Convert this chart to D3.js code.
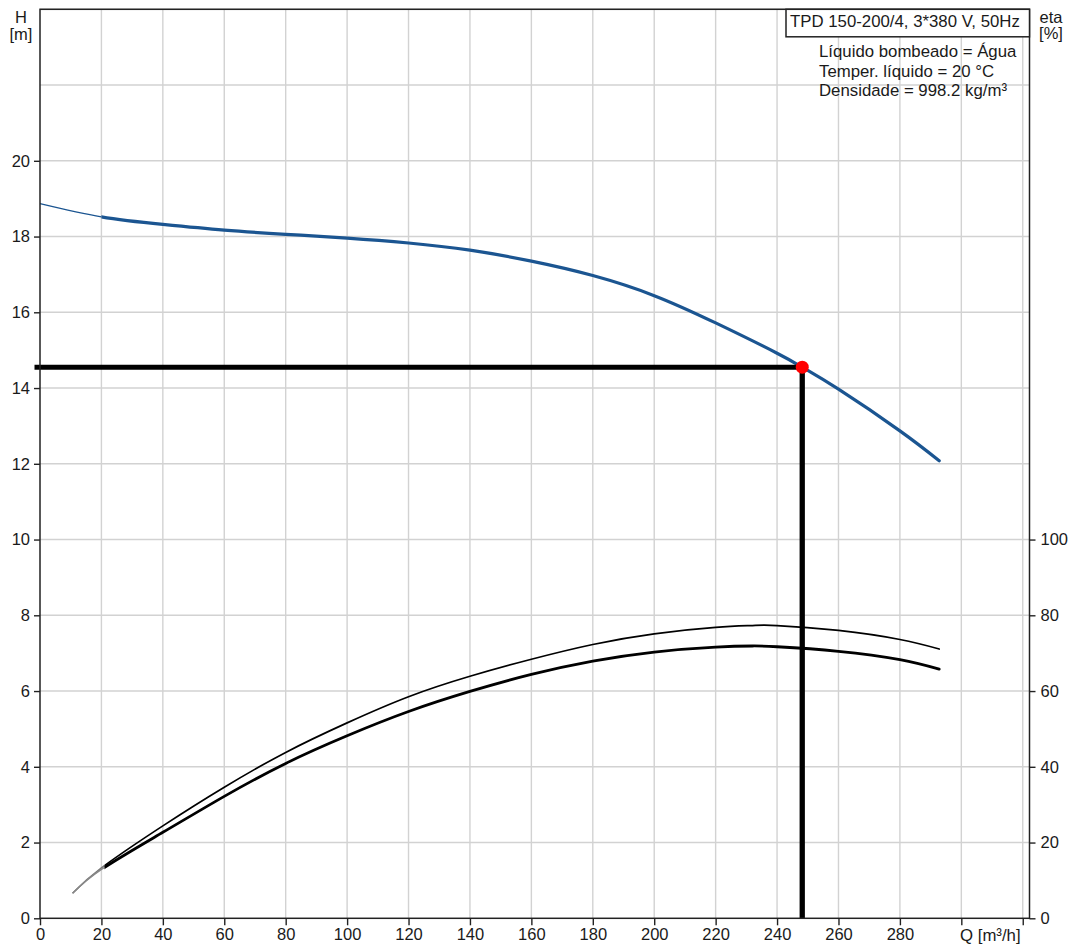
<!DOCTYPE html>
<html><head><meta charset="utf-8">
<script src="https://cdn.jsdelivr.net/npm/d3@7"></script>
<style>
body{margin:0;background:#fff}
svg{display:block;font-family:"Liberation Sans",Arial,sans-serif}
</style>
</head><body>
<svg id="c" width="1071" height="950"></svg>
<script>
// ---------- data ----------
const qTicks = [0,20,40,60,80,100,120,140,160,180,200,220,240,260,280];
const qExtraTicks = [300,320];
const hTicks = [0,2,4,6,8,10,12,14,16,18,20];
const hGrid = [2,4,6,8,10,12,14,16,18,20,22,24];
const etaTicks = [0,20,40,60,80,100];

const headQ = [0,20,40,60,80,100,120,140,160,180,200,220,240,248.2,260,280,292.8];
const headH = [18.87,18.52,18.32,18.17,18.06,17.96,17.83,17.64,17.35,16.97,16.44,15.72,14.92,14.55,13.97,12.87,12.08];

const etaQ      = [10.6,20,40,60,80,100,120,140,160,180,200,220,232,240,260,280,292.8];
const etaUpper  = [6.6,13.3,24.4,34.6,43.8,51.6,58.5,63.9,68.4,72.3,75.1,76.8,77.3,77.3,76.0,73.6,71.1];
const etaLower  = [6.6,12.9,22.7,32.2,40.9,48.2,54.6,59.9,64.4,67.9,70.3,71.6,71.9,71.7,70.5,68.3,65.8];

const dutyQ = 248.2, dutyH = 14.55;
const headThinEnd = 20, etaThinEnd = 21;

const titleText = "TPD 150-200/4, 3*380 V, 50Hz";
const infoLines = ["Líquido bombeado = Água","Temper. líquido = 20 °C","Densidade = 998.2 kg/m³"];

// ---------- layout ----------
const L = 40, R = 1029.5, T = 9.3, B = 918.3;
const x = d3.scaleLinear().domain([0,322.2]).range([L,R]);
const y = d3.scaleLinear().domain([0,24]).range([B,T]);
const yEta = d3.scaleLinear().domain([0,240]).range([B,T]);

const svg = d3.select("#c");
const FS = 16.5, FS2 = 16.8, TXT = "#1a1a1a", GRID = "#d2d2d2", BLUE = "#1b5591";

// grid
svg.append("g").selectAll("line").data(qTicks.slice(1).concat(qExtraTicks)).join("line")
  .attr("x1",d=>x(d)).attr("x2",d=>x(d)).attr("y1",T).attr("y2",B)
  .attr("stroke",GRID).attr("stroke-width",1.4);
svg.append("g").selectAll("line").data(hGrid).join("line")
  .attr("x1",L).attr("x2",R).attr("y1",d=>y(d)).attr("y2",d=>y(d))
  .attr("stroke",GRID).attr("stroke-width",1.4);

// clip paths
const defs = svg.append("defs");
function clip(id,x0,x1){defs.append("clipPath").attr("id",id).append("rect")
  .attr("x",x0).attr("y",0).attr("width",x1-x0).attr("height",950);}
clip("hThin",0,x(headThinEnd));
clip("hThick",x(headThinEnd),1071);
clip("eThin",0,x(etaThinEnd));
clip("eThick",x(etaThinEnd),1071);

const lineH = d3.line().x((d,i)=>x(headQ[i])).y(d=>y(d)).curve(d3.curveNatural);
const lineE = d3.line().x((d,i)=>x(etaQ[i])).y(d=>yEta(d)).curve(d3.curveNatural);

// efficiency curves
svg.append("path").attr("d",lineE(etaUpper)).attr("clip-path","url(#eThin)")
  .attr("fill","none").attr("stroke","#777").attr("stroke-width",1.6);
svg.append("path").attr("d",lineE(etaLower)).attr("clip-path","url(#eThin)")
  .attr("fill","none").attr("stroke","#888").attr("stroke-width",1.6);
svg.append("path").attr("d",lineE(etaUpper)).attr("clip-path","url(#eThick)")
  .attr("fill","none").attr("stroke","#000").attr("stroke-width",1.7).attr("stroke-linecap","round");
svg.append("path").attr("d",lineE(etaLower)).attr("clip-path","url(#eThick)")
  .attr("fill","none").attr("stroke","#000").attr("stroke-width",2.8).attr("stroke-linecap","round");

// head curve
svg.append("path").attr("d",lineH(headH)).attr("clip-path","url(#hThin)")
  .attr("fill","none").attr("stroke",BLUE).attr("stroke-width",1.1);
svg.append("path").attr("d",lineH(headH)).attr("clip-path","url(#hThick)")
  .attr("fill","none").attr("stroke",BLUE).attr("stroke-width",3.2).attr("stroke-linecap","round");

// duty point lines
svg.append("line").attr("x1",x(0)-5.5).attr("x2",x(dutyQ)).attr("y1",y(dutyH)).attr("y2",y(dutyH))
  .attr("stroke","#000").attr("stroke-width",5);
svg.append("line").attr("x1",x(dutyQ)).attr("x2",x(dutyQ)).attr("y1",y(dutyH)).attr("y2",y(0))
  .attr("stroke","#000").attr("stroke-width",5.3);
svg.append("circle").attr("cx",x(dutyQ)).attr("cy",y(dutyH)).attr("r",6.5).attr("fill","#ff0000");

// frame
svg.append("rect").attr("x",L).attr("y",T).attr("width",R-L).attr("height",B-T)
  .attr("fill","none").attr("stroke","#222").attr("stroke-width",1.5);

// axes
function styleAxis(g){
  g.select(".domain").remove();
  g.selectAll(".tick line").attr("stroke","#222").attr("stroke-width",1.4);
  g.selectAll(".tick text").attr("fill",TXT).style("font-size",FS+"px")
   .style("font-family","'Liberation Sans',Arial,sans-serif");
}
svg.append("g").attr("transform",`translate(${L},0)`)
  .call(d3.axisLeft(y).tickValues(hTicks).tickSize(6).tickPadding(4).tickFormat(d3.format("d")))
  .call(styleAxis);
svg.append("g").attr("transform",`translate(${R},0)`)
  .call(d3.axisRight(yEta).tickValues(etaTicks).tickSize(6).tickPadding(5).tickFormat(d3.format("d")))
  .call(styleAxis);
svg.append("g").attr("transform",`translate(0,${B})`)
  .call(d3.axisBottom(x).tickValues(qTicks.concat(qExtraTicks)).tickSize(7).tickPadding(3)
    .tickFormat(d=>qTicks.includes(d)?d:""))
  .call(styleAxis);

// axis titles
const tx = (s,xx,yy,anchor,fs)=>svg.append("text").attr("x",xx).attr("y",yy).attr("text-anchor",anchor||"start")
  .attr("fill",TXT).style("font-size",(fs||FS)+"px").text(s);
tx("H",21,23,"middle");
tx("[m]",21,40,"middle");
tx("eta",1051,23,"middle");
tx("[%]",1051,39,"middle");
tx("Q [m³/h]",960,941,"start",FS2);

// title box
svg.append("rect").attr("x",786).attr("y",T).attr("width",R-786).attr("height",27.5)
  .attr("fill","#fff").attr("stroke","#222").attr("stroke-width",1.5);
tx(titleText,790,27,"start",FS2);
infoLines.forEach((s,i)=>tx(s,819,57+i*19.7,"start",FS2));
</script>
</body></html>
